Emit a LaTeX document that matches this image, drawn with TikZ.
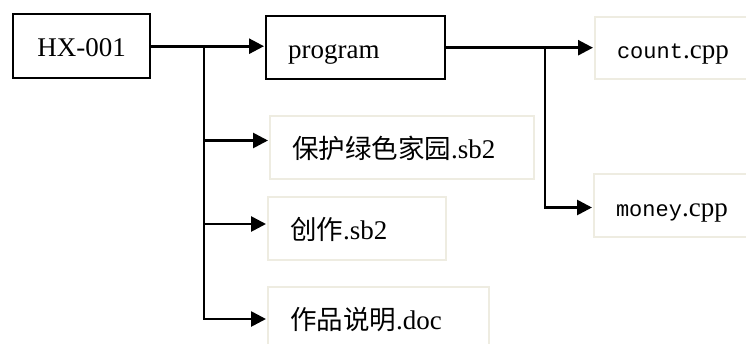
\documentclass[tikz,border=0pt]{standalone}
\usepackage{fontspec}
\setmainfont{Liberation Serif}
\newfontfamily\cjk{Noto Sans CJK SC}
\newfontfamily\monof{Liberation Mono}
\newfontfamily\serif{Liberation Serif}
\usetikzlibrary{arrows.meta}
\definecolor{pale}{HTML}{EEECE1}
\newcommand{\mono}[1]{{\monof\fontsize{22}{26}\selectfont #1}}
\newcommand{\zh}[1]{{\cjk\fontsize{26.5}{30}\selectfont #1}}
\newcommand{\la}[1]{{\serif\fontsize{27}{31}\selectfont #1}}
\begin{document}
\begin{tikzpicture}[x=1pt,y=-1pt,
  basebox/.style={anchor=north west,inner xsep=22pt,inner ysep=0pt,
    font=\fontsize{27}{31}\selectfont,align=left,
    execute at begin node={\rule[-8pt]{0pt}{37pt}}},
  darkbox/.style={basebox,draw=black,line width=2.4pt},
  palebox/.style={basebox,draw=pale,line width=2pt},
  conn/.style={line width=2.7pt,-{Triangle[length=15pt,width=15pt]},shorten >=1pt}]
\useasboundingbox (0,0) rectangle (746,343);
\clip (0,0) rectangle (746,343);
\node[darkbox,minimum width=137pt,minimum height=64pt,text width=93pt,align=center] (hx) at (12,13) {\la{HX-001}};
\node[darkbox,minimum width=179pt,minimum height=63pt,text width=135pt] (prog) at (265,15) {\la{program}};
\node[palebox,minimum width=170pt,minimum height=62pt,text width=126pt] (cnt) at (594,16) {\mono{count}\la{.cpp}};
\node[palebox,minimum width=170pt,minimum height=63pt,text width=126pt] (mon) at (593,173) {\mono{money}\la{.cpp}};
\node[palebox,minimum width=264pt,minimum height=63pt,text width=220pt] (p1) at (269,115) {\zh{保护绿色家园}\la{.sb2}};
\node[palebox,minimum width=178pt,minimum height=63pt,text width=134pt] (p2) at (267,196) {\zh{创作}\la{.sb2}};
\node[palebox,minimum width=221pt,minimum height=64pt,text width=177pt] (p3) at (267,286) {\zh{作品说明}\la{.doc}};
\coordinate (j1) at (204,46);
\coordinate (j2) at (545,47);
\draw[conn] (hx.east) -- (hx.east -| prog.west);
\draw[conn] (j1) |- ([yshift=7pt]p1.west);
\draw[conn] (j1) |- ([yshift=4.5pt]p2.west);
\draw[conn] (j1) |- (p3.west);
\draw[conn] (prog.east) -- (prog.east -| cnt.west);
\draw[conn] (j2) |- ([yshift=-2pt]mon.west);
\end{tikzpicture}
\end{document}
